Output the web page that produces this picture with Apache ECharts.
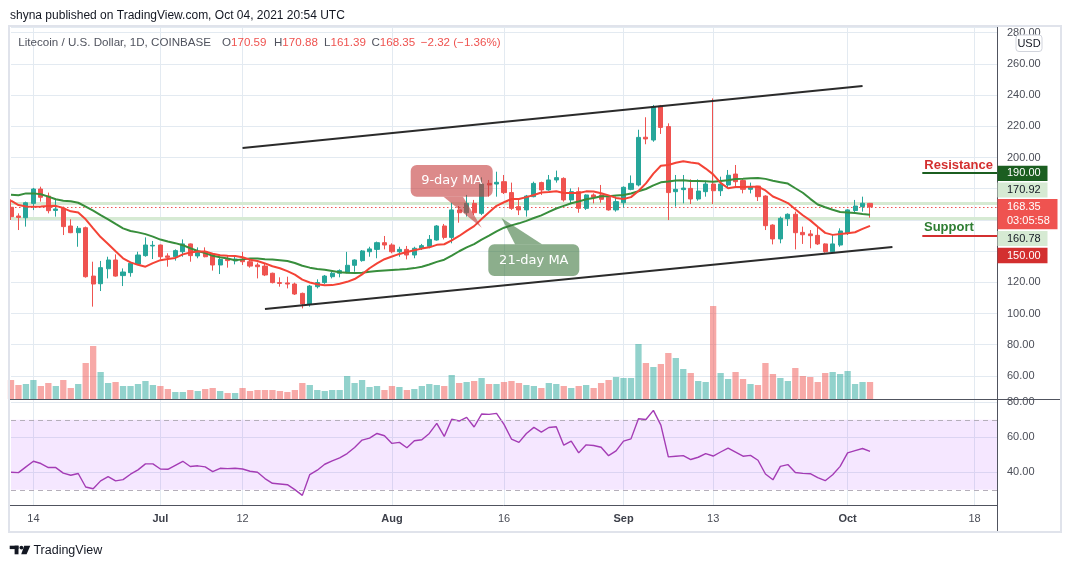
<!DOCTYPE html>
<html><head><meta charset="utf-8">
<script src="https://cdn.jsdelivr.net/npm/echarts@6/dist/echarts.min.js"></script>
<style>html,body{margin:0;padding:0;background:#fff;}#c{width:1071px;height:568px;}</style>
</head><body><div id="c"></div>
<script>
// ---------- data ----------
const startDate = Date.UTC(2021, 5, 11);   // first category: 2021-06-11
const dayCount = 133;                       // axis runs to 2021-10-21
const tickLabels = {'2021-06-14':'14','2021-07-01':'Jul','2021-07-12':'12','2021-08-01':'Aug','2021-08-16':'16','2021-09-01':'Sep','2021-09-13':'13','2021-10-01':'Oct','2021-10-18':'18'};

const opens = [168.1,162.5,161.4,170.6,179.8,175.3,166.1,167.4,156.1,151.8,
155.0,124.0,119.1,128.7,134.3,124.3,126.2,131.7,137.1,143.3,
143.9,136.9,136.4,139.6,144.6,136.9,139.6,137.5,131.1,134.7,
133.7,134.7,133.2,131.1,130.4,125.8,119.8,119.6,118.9,112.9,
106.1,117.2,119.8,123.6,125.8,126.2,130.9,133.9,139.6,141.1,
145.4,143.9,139.6,141.1,137.5,141.8,143.0,147.1,156.1,148.8,
166.4,164.6,170.6,164.2,183.4,183.0,184.5,177.5,168.5,166.4,
174.9,183.9,179.2,185.6,186.6,172.8,178.1,167.4,176.0,176.0,
174.5,166.4,171.0,179.6,182.4,213.0,211.2,233.0,219.8,178.1,
179.4,180.2,173.4,178.1,183.0,178.7,182.4,189.4,185.2,179.6,
181.7,175.3,156.7,147.8,160.8,163.6,152.0,151.0,150.1,144.6,
139.6,143.9,151.4,166.0,168.5,170.59];
const highs = [173.2,164.2,171.7,180.5,181.3,177.5,173.2,168.5,160.4,156.1,
155.7,133.2,133.7,136.4,137.9,128.9,132.6,139.6,148.8,146.5,
144.2,138.6,141.1,147.5,144.9,142.4,142.4,138.1,136.4,136.9,
136.4,139.6,134.3,132.6,132.2,126.2,123.2,123.6,119.8,113.4,
118.3,121.9,124.7,126.8,128.3,139.5,134.7,140.7,142.8,146.1,
149.7,145.0,142.8,143.3,142.8,144.6,150.3,156.7,157.4,171.0,
168.9,176.0,172.8,187.3,185.6,190.9,188.8,183.9,172.8,176.0,
184.5,184.5,188.8,191.6,187.3,180.2,180.9,176.4,177.0,182.4,
174.9,174.9,181.5,188.5,217.8,225.8,233.7,233.7,221.9,188.8,
188.8,186.0,186.0,185.2,237.9,187.7,192.0,195.2,186.6,183.9,
181.7,175.8,157.2,162.1,164.2,165.3,155.7,153.5,155.7,145.0,
150.3,154.6,166.8,172.8,174.9,170.88];
const lows = [159.9,153.5,155.7,166.3,171.7,164.2,162.1,150.3,151.5,142.8,
123.0,104.4,114.4,122.5,123.6,117.6,123.6,131.1,136.4,134.9,
134.7,130.0,133.9,136.4,133.2,135.4,136.0,127.5,125.3,129.4,
131.5,131.1,129.4,122.5,124.0,119.3,117.2,116.1,111.9,103.3,
104.4,116.1,119.0,122.5,123.2,125.8,126.8,133.2,136.4,135.4,
141.1,138.6,136.4,134.7,135.4,140.7,141.8,146.7,147.5,145.0,
158.2,162.1,163.1,163.1,174.9,174.9,176.6,166.4,163.1,162.1,
174.5,176.0,178.7,183.9,171.7,170.6,164.6,166.4,170.6,171.0,
165.9,165.3,167.9,179.0,181.5,208.5,210.1,215.1,159.9,168.5,
170.6,170.2,172.3,174.9,170.2,175.3,180.9,181.3,177.0,177.0,
172.1,153.5,144.3,145.0,156.1,141.1,144.6,141.8,143.9,139.0,
138.6,142.8,150.3,164.6,165.3,161.39];
const closes = [162.1,161.6,171.0,179.8,174.5,165.9,167.0,155.7,151.8,154.6,
123.6,118.9,129.4,134.3,124.0,126.6,132.2,137.5,143.9,143.7,
136.4,136.0,140.3,144.6,137.1,139.0,136.4,131.1,134.7,133.9,
134.9,133.2,130.4,130.0,124.7,119.8,119.3,118.9,112.5,106.1,
117.6,119.8,124.0,125.8,127.5,130.9,134.3,140.1,141.4,145.4,
143.9,139.6,141.1,137.5,141.8,143.5,147.5,156.1,148.8,166.4,
164.6,170.6,164.6,183.0,182.4,184.1,177.5,167.4,166.4,175.3,
183.4,179.2,185.6,187.1,172.8,178.1,167.4,176.0,174.5,173.2,
166.4,171.7,180.9,183.4,212.9,211.9,232.6,219.3,177.5,179.6,
180.4,173.4,178.5,183.0,178.7,183.0,188.6,184.5,179.6,181.3,
174.9,156.3,147.8,161.0,163.6,151.8,150.5,149.9,144.6,139.6,
144.6,152.9,166.4,168.9,170.67,168.35];
const volumes = [57,42,45,57,39,48,39,57,33,45,
108,159,81,48,51,39,39,45,54,42,
39,30,21,21,27,24,30,33,24,18,
18,33,24,27,27,27,24,21,27,48,
42,27,24,27,27,69,48,57,36,39,
27,39,36,27,30,39,45,42,39,72,
48,51,54,63,45,45,51,54,48,42,
39,33,48,45,39,33,39,42,33,48,
57,66,63,63,165,108,96,105,138,123,
90,78,54,51,279,78,60,81,60,45,
42,108,75,63,54,93,69,66,51,78,
81,75,84,45,51,51];
const ma9 = [172.3,169.5,168.6,168.5,168.6,168.9,169.0,167.6,165.5,164.7,
160.4,154.6,149.0,144.6,139.9,135.4,132.8,131.2,130.0,132.3,
134.2,135.0,135.6,137.9,139.1,139.8,139.7,138.3,137.3,137.0,
136.9,136.1,134.5,133.7,132.1,130.3,129.0,127.2,124.9,121.7,
119.9,118.7,118.1,118.2,119.1,120.3,122.1,125.1,129.0,132.1,
134.8,136.5,138.2,139.4,140.6,141.6,142.4,144.0,144.4,146.9,
149.7,153.0,156.0,160.6,164.9,169.0,171.3,173.4,173.4,174.6,
176.0,177.6,177.9,178.4,177.2,177.3,177.3,178.3,178.2,177.1,
175.7,174.1,173.4,174.6,178.5,183.4,189.7,194.7,195.2,196.6,
197.6,196.8,196.2,192.9,189.2,183.7,180.3,181.1,181.1,181.2,
181.3,178.9,175.0,173.0,170.8,166.8,163.0,159.7,155.6,151.7,
150.4,150.9,151.5,152.1,154.2,156.2];
const ma21 = [176.2,175.8,177.0,177.0,176.4,174.9,173.2,172.3,171.9,171.0,
168.5,165.9,163.1,160.4,157.4,154.6,152.9,152.0,150.9,149.3,
147.4,146.1,145.1,143.8,141.8,140.1,138.7,137.0,136.0,135.2,
134.2,134.7,135.2,135.2,134.8,134.6,134.2,133.6,132.4,130.6,
129.4,128.6,128.0,127.3,126.5,126.2,126.0,126.2,126.7,127.2,
127.6,127.9,128.2,128.6,129.1,130.0,131.4,133.1,134.5,137.1,
139.9,142.4,144.5,147.4,150.0,152.7,155.0,156.5,157.8,159.4,
161.2,162.9,165.1,167.3,169.0,170.7,171.8,173.2,174.1,175.2,
175.2,175.6,176.0,176.9,178.4,179.8,182.1,184.1,184.6,185.2,
185.4,184.9,184.9,184.8,184.4,184.9,185.4,186.2,186.4,186.7,
186.8,186.3,185.1,184.2,183.3,180.3,177.4,173.5,169.9,168.1,
166.5,165.1,164.8,164.4,163.8,163.3];
const rsi = [40.0,39.8,43.1,46.3,45.0,42.7,42.7,39.5,38.3,39.3,
31.6,30.6,35.1,37.5,35.1,35.8,38.9,41.4,44.8,44.8,
41.9,41.7,44.0,46.3,43.3,43.7,43.1,40.4,42.3,42.1,
42.3,41.9,40.6,40.0,36.4,33.7,33.3,32.9,30.1,26.8,
38.7,41.2,44.6,46.5,48.2,50.7,54.2,58.4,59.5,62.2,
60.9,56.5,57.1,54.0,58.0,58.6,62.2,68.0,60.5,70.3,
69.3,71.4,65.9,73.3,73.1,73.7,67.4,59.0,57.1,62.2,
65.7,63.0,65.6,66.0,55.5,57.8,51.1,55.7,55.3,54.3,
49.5,52.2,57.8,59.1,70.6,70.2,75.4,67.0,48.8,49.2,
49.5,47.3,48.6,50.7,49.3,51.6,53.8,51.5,49.2,49.7,
46.9,39.0,35.7,43.4,44.4,39.9,39.4,39.2,36.9,35.2,
38.6,43.4,51.1,52.4,53.6,52.0];
const trendUpper = [['2021-07-12',206.1],['2021-10-03',245.8]];
const trendLower = [['2021-07-15',102.9],['2021-10-07',142.6]];
const dayHigh = 170.92, dayLow = 160.78;
const resistanceLevel = 190, supportLevel = 150;
const levelSpan = ['2021-10-11','2021-10-21'];
const countdown = '03:05:58';
const publishLine = 'shyna published on TradingView.com, Oct 04, 2021 20:54 UTC';
const symbolLine = 'Litecoin / U.S. Dollar, 1D, COINBASE';

// ---------- build ----------
const categories = [];
for (let i = 0; i < dayCount; i++) categories.push(new Date(startDate + i * 86400000).toISOString().slice(0, 10));
const candles = opens.map((o, i) => [o, closes[i], lows[i], highs[i]]);
const UP = '#26a69a', DOWN = '#ef5350';
const volData = volumes.map((v, i) => ({value: v, itemStyle: {color: closes[i] >= opens[i] ? 'rgba(38,166,154,0.5)' : 'rgba(239,83,80,0.5)'}}));
const n = closes.length;
const lastO = opens[n-1], lastH = highs[n-1], lastL = lows[n-1], lastC = closes[n-1];
const chg = lastC - closes[n-2];
const pct = chg / closes[n-2] * 100;
const fmt = v => (v < 0 ? '\u2212' : '') + Math.abs(v).toFixed(2);

const FONT = '"Liberation Sans", Arial, sans-serif';
const gridColor = '#e3eaf1';
const labelColor = '#4a4d57';
const isTick = (i, v) => Object.prototype.hasOwnProperty.call(tickLabels, v);

const option = {
  animation: false,
  backgroundColor: '#ffffff',
  grid: [
    {left: 11, right: 74, top: 27, bottom: 169},
    {left: 11, right: 74, top: 399, bottom: 63}
  ],
  xAxis: [
    {type: 'category', gridIndex: 0, data: categories, boundaryGap: false,
     axisLine: {show: false}, axisTick: {show: false}, axisLabel: {show: false},
     splitLine: {show: true, interval: isTick, lineStyle: {color: gridColor, width: 1}}},
    {type: 'category', gridIndex: 1, data: categories, boundaryGap: false,
     axisLine: {show: false}, axisTick: {show: false},
     axisLabel: {show: true, interval: isTick, margin: 8, color: labelColor, fontSize: 11, fontFamily: FONT,
       formatter: v => { const t = tickLabels[v]; return /^[A-Z]/.test(t) ? '{m|' + t + '}' : t; },
       rich: {m: {fontWeight: 'bold', fontSize: 11, fontFamily: FONT, color: '#3d404a'}}},
     splitLine: {show: true, interval: isTick, lineStyle: {color: gridColor, width: 1}}}
  ],
  yAxis: [
    {type: 'value', gridIndex: 0, position: 'right', min: 45.2, max: 283.65, splitNumber: 12,
     axisLine: {show: false}, axisTick: {show: false},
     axisLabel: {margin: 10, color: labelColor, fontSize: 11, fontFamily: FONT,
       formatter: v => { const r = Math.round(v); if (Math.abs(v - r) > 1e-6 || r % 20 !== 0) return ''; if (r === 140 || r === 160 || r === 180) return ''; return r.toFixed(2); }},
     splitLine: {lineStyle: {color: gridColor, width: 1}}},
    {type: 'value', gridIndex: 0, min: 0, max: 1116, show: false},
    {type: 'value', gridIndex: 1, position: 'right', min: 21.3, max: 81.9, splitNumber: 3,
     axisLine: {show: false}, axisTick: {show: false},
     axisLabel: {margin: 10, color: labelColor, fontSize: 11, fontFamily: FONT,
       formatter: v => { const r = Math.round(v); if (Math.abs(v - r) > 1e-6 || r % 20 !== 0) return ''; return r.toFixed(2); }},
     splitLine: {lineStyle: {color: gridColor, width: 1}}}
  ],
  series: [
    {type: 'bar', name: 'Volume', xAxisIndex: 0, yAxisIndex: 1, data: volData, barWidth: 6.3, z: 1, silent: true},
    {type: 'candlestick', name: 'LTCUSD', xAxisIndex: 0, yAxisIndex: 0, data: candles, barWidth: 4.6, clip: false, z: 3,
     itemStyle: {color: UP, color0: DOWN, borderColor: UP, borderColor0: DOWN, borderWidth: 1},
     markLine: {silent: true, z: 2, symbol: ['none', 'none'], label: {show: false},
       data: [
         {yAxis: dayHigh, lineStyle: {color: '#d6ead3', width: 3, type: 'solid'}},
         {yAxis: dayLow, lineStyle: {color: '#d6ead3', width: 3, type: 'solid'}},
         {yAxis: lastC, lineStyle: {color: '#ef5350', width: 1, type: [1.5, 2.5]}}
       ]}},
    {type: 'line', name: '21-day MA', xAxisIndex: 0, yAxisIndex: 0, data: ma21, showSymbol: false, z: 4,
     lineStyle: {color: '#388e3c', width: 2}, silent: true},
    {type: 'line', name: '9-day MA', xAxisIndex: 0, yAxisIndex: 0, data: ma9, showSymbol: false, z: 4,
     lineStyle: {color: '#f44336', width: 2}, silent: true,
     markLine: {silent: true, symbol: ['none', 'none'], label: {show: false},
       data: [
         [{coord: [levelSpan[0], resistanceLevel], lineStyle: {color: '#1b5e20', width: 2, type: 'solid'}}, {coord: [levelSpan[1], resistanceLevel]}],
         [{coord: [levelSpan[0], supportLevel], lineStyle: {color: '#d32f2f', width: 2, type: 'solid'}}, {coord: [levelSpan[1], supportLevel]}]
       ]}},
    {type: 'line', name: 'Upper channel', xAxisIndex: 0, yAxisIndex: 0, data: trendUpper, showSymbol: false, z: 5,
     lineStyle: {color: '#2b2b2b', width: 2}, silent: true},
    {type: 'line', name: 'Lower channel', xAxisIndex: 0, yAxisIndex: 0, data: trendLower, showSymbol: false, z: 5,
     lineStyle: {color: '#2b2b2b', width: 2}, silent: true},
    {type: 'line', name: 'RSI', xAxisIndex: 1, yAxisIndex: 2, data: rsi, showSymbol: false, z: 4,
     lineStyle: {color: '#a43cb5', width: 1.4}, silent: true,
     markArea: {silent: true, itemStyle: {color: 'rgba(153,21,255,0.1)'}, data: [[{yAxis: 30}, {yAxis: 70}]]},
     markLine: {silent: true, symbol: ['none', 'none'], label: {show: false},
       lineStyle: {color: '#b5afba', width: 1, type: [5, 4]},
       data: [{yAxis: 70}, {yAxis: 30}]}}
  ]
};

const chart = echarts.init(document.getElementById('c'));
chart.setOption(option);

const py = v => chart.convertToPixel({yAxisIndex: 0}, v);
const T = (x, y, text, fill, size, extra) => Object.assign({type: 'text', z: 60, silent: true,
  style: Object.assign({x: x, y: y, text: text, fill: fill, fontSize: size, fontFamily: FONT, verticalAlign: 'middle', align: 'left'}, extra || {})});

const badges = [
  {text: resistanceLevel.toFixed(2), top: 165.7, h: 15.3, w: 50, fill: '#1b5e20', color: '#ffffff'},
  {text: dayHigh.toFixed(2), top: 182.6, h: 15.0, w: 50, fill: '#d6ead3', color: '#131722'},
  {text: lastC.toFixed(2) + '\n' + countdown, top: 199, h: 30.3, w: 60, fill: '#ef5350', color: '#ffffff'},
  {text: dayLow.toFixed(2), top: 231, h: 15.0, w: 50, fill: '#d6ead3', color: '#131722'},
  {text: supportLevel.toFixed(2), top: 247.7, h: 15.6, w: 50, fill: '#d32f2f', color: '#ffffff'}
];

const g = [];
// frame and separators
g.push({type: 'rect', z: 50, silent: true, shape: {x: 9, y: 26, width: 1052, height: 506}, style: {fill: 'none', stroke: '#e0e3eb', lineWidth: 2}});
g.push({type: 'line', z: 55, silent: true, shape: {x1: 10, y1: 399.5, x2: 1060, y2: 399.5}, style: {stroke: '#50535e', lineWidth: 1}});
g.push({type: 'line', z: 55, silent: true, shape: {x1: 10, y1: 505.5, x2: 997.5, y2: 505.5}, style: {stroke: '#50535e', lineWidth: 1}});
g.push({type: 'line', z: 55, silent: true, shape: {x1: 997.5, y1: 27, x2: 997.5, y2: 531}, style: {stroke: '#50535e', lineWidth: 1}});
// header
g.push(T(10, 15.5, publishLine, '#131722', 12));
g.push(T(18.3, 42.5, symbolLine, '#50535e', 11.6));
const ohlc = [['O', lastO, 222], ['H', lastH, 274], ['L', lastL, 324], ['C', lastC, 371.4]];
ohlc.forEach(([k, v, x]) => g.push(T(x, 42.5, '{l|' + k + '}{v|' + v.toFixed(2) + '}', '#50535e', 11.6,
  {rich: {l: {fill: '#50535e', fontSize: 11.6, fontFamily: FONT}, v: {fill: '#ef5350', fontSize: 11.6, fontFamily: FONT}}})));
g.push(T(420.7, 42.5, fmt(chg) + ' (' + fmt(pct) + '%)', '#ef5350', 11.6));
// USD box
g.push({type: 'rect', z: 60, silent: true, shape: {x: 1016, y: 35, width: 26, height: 16.5, r: 3}, style: {fill: '#ffffff', stroke: '#d1d4dc', lineWidth: 1}});
g.push(T(1029, 43.5, 'USD', '#131722', 11, {align: 'center'}));
// price badges
badges.forEach(b => {
  g.push({type: 'rect', z: 60, silent: true, shape: {x: 997.5, y: b.top, width: b.w, height: b.h}, style: {fill: b.fill}});
  g.push(T(1007, b.top + b.h / 2, b.text, b.color, 11, {lineHeight: 14}));
});
// resistance / support labels
g.push(T(924.3, py(resistanceLevel) - 7.5, 'Resistance', '#d32f2f', 13, {fontWeight: 'bold'}));
g.push(T(924, py(supportLevel) - 8, 'Support', '#2e7d32', 13, {fontWeight: 'bold'}));
// MA callouts
const red = 'rgba(196,60,60,0.6)', green = 'rgba(56,116,56,0.58)';
g.push({type: 'rect', z: 58, silent: true, shape: {x: 410.7, y: 165, width: 82, height: 31.7, r: 6}, style: {fill: red}});
g.push({type: 'polygon', z: 58, silent: true, shape: {points: [[443.5, 196.7], [463, 196.7], [481.7, 227.7]]}, style: {fill: red}});
g.push(T(451.7, 181, '9-day MA', '#ffffff', 13, {align: 'center', fontFamily: '"DejaVu Sans", sans-serif'}));
g.push({type: 'rect', z: 58, silent: true, shape: {x: 488.3, y: 244.3, width: 91, height: 31.7, r: 6}, style: {fill: green}});
g.push({type: 'polygon', z: 58, silent: true, shape: {points: [[501.5, 218], [515, 244.3], [542, 244.3]]}, style: {fill: green}});
g.push(T(533.8, 260.3, '21-day MA', '#ffffff', 13, {align: 'center', fontFamily: '"DejaVu Sans", sans-serif'}));
// TradingView logo + name
g.push({type: 'rect', z: 60, silent: true, shape: {x: 9.7, y: 545.7, width: 8.8, height: 3.4}, style: {fill: '#131722'}});
g.push({type: 'rect', z: 60, silent: true, shape: {x: 14.6, y: 545.7, width: 3.9, height: 8.6}, style: {fill: '#131722'}});
g.push({type: 'circle', z: 60, silent: true, shape: {cx: 21.4, cy: 547.6, r: 1.9}, style: {fill: '#131722'}});
g.push({type: 'polygon', z: 60, silent: true, shape: {points: [[24.2, 545.7], [30.3, 545.7], [26.6, 554.3], [21.2, 554.3]]}, style: {fill: '#131722'}});
g.push(T(33.4, 550.2, 'TradingView', '#131722', 12.5));

chart.setOption({graphic: g});
</script>
</body></html>
